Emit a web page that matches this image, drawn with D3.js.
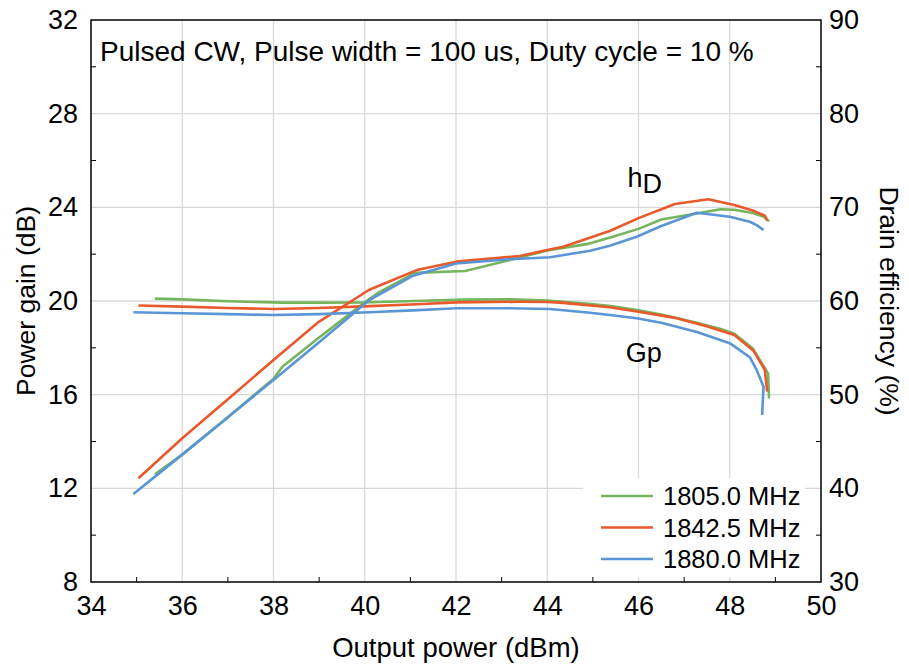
<!DOCTYPE html>
<html>
<head>
<meta charset="utf-8">
<script src="https://cdn.jsdelivr.net/npm/d3@7"></script>
<style>
  body { margin: 0; background: #fff; }
  text { font-family: Arial, "Liberation Sans", sans-serif; fill: #000; }
</style>
</head>
<body>
<div id="wrapper"></div>
<script>
// output power (dBm), gain (dB) and drain efficiency (%)
const pout1805 = [35.4, 36.0, 37.0, 38.0, 38.2, 39.0, 40.0, 40.3, 41.1, 42.2, 43.2, 44.0, 44.9, 45.4, 46.0, 46.5, 47.3, 47.8, 48.1, 48.5, 48.75, 48.84, 48.86]
const gain1805 = [20.10, 20.07, 19.99, 19.94, 19.93, 19.93, 19.94, 19.96, 20.0, 20.06, 20.07, 20.02, 19.88, 19.78, 19.60, 19.42, 19.06, 18.80, 18.60, 17.98, 17.2, 16.9, 15.84]
const eff1805 = [41.5, 43.6, 47.6, 51.7, 53.0, 56.1, 59.85, 60.9, 63.0, 63.2, 64.4, 65.4, 66.1, 66.8, 67.7, 68.7, 69.36, 69.8, 69.75, 69.4, 69.0, 68.6, 68.5]

const pout1842 = [35.04, 36.0, 37.0, 38.0, 39.0, 40.1, 41.14, 42.0, 43.4, 44.0, 44.35, 45.37, 46.0, 46.8, 47.53, 48.1, 48.52, 48.77, 48.82]
const gain1842 = [19.81, 19.76, 19.70, 19.66, 19.70, 19.78, 19.86, 19.94, 19.97, 19.96, 19.92, 19.73, 19.54, 19.28, 18.90, 18.55, 17.88, 17.05, 16.13]
const eff1842 = [41.07, 45.34, 49.5, 53.7, 57.8, 61.2, 63.3, 64.2, 64.8, 65.44, 65.8, 67.47, 68.85, 70.35, 70.86, 70.25, 69.64, 69.1, 68.6]

const pout1880 = [34.93, 36.0, 37.0, 38.0, 39.0, 40.1, 41.06, 42.0, 43.18, 44.06, 44.94, 45.37, 45.96, 46.5, 47.28, 48.0, 48.44, 48.59, 48.74, 48.71]
const gain1880 = [19.52, 19.48, 19.44, 19.40, 19.44, 19.52, 19.60, 19.69, 19.69, 19.66, 19.50, 19.40, 19.26, 19.07, 18.68, 18.2, 17.6, 17.05, 16.34, 15.13]
const eff1880 = [39.4, 43.6, 47.6, 51.56, 55.6, 60.1, 62.7, 64.0, 64.45, 64.67, 65.37, 65.9, 66.86, 68.0, 69.43, 69.0, 68.46, 68.1, 67.58, null]

const seriesNames = ["1805.0 MHz", "1842.5 MHz", "1880.0 MHz"]
const seriesColors = ["#76b45e", "#e8592b", "#5a95d5"]

const xTicks = [34, 36, 38, 40, 42, 44, 46, 48, 50]
const gainTicks = [8, 12, 16, 20, 24, 28, 32]
const effTicks = [30, 40, 50, 60, 70, 80, 90]

const titleText = "Pulsed CW, Pulse width = 100 us, Duty cycle = 10 %"

const series = [
    { name: seriesNames[0], color: seriesColors[0], pout: pout1805, gain: gain1805, eff: eff1805 },
    { name: seriesNames[1], color: seriesColors[1], pout: pout1842, gain: gain1842, eff: eff1842 },
    { name: seriesNames[2], color: seriesColors[2], pout: pout1880, gain: gain1880, eff: eff1880 },
]

let dimensions = {
    width: 909,
    height: 665,
    margin: { top: 20, right: 88, bottom: 83, left: 91 },
}
dimensions.boundedWidth = dimensions.width - dimensions.margin.left - dimensions.margin.right
dimensions.boundedHeight = dimensions.height - dimensions.margin.top - dimensions.margin.bottom

const wrapper = d3.select("#wrapper")
    .append("svg")
    .attr("width", dimensions.width)
    .attr("height", dimensions.height)

const bounds = wrapper.append("g")
    .attr("transform", `translate(${dimensions.margin.left},${dimensions.margin.top})`)

const xScale = d3.scaleLinear().domain([34, 50]).range([0, dimensions.boundedWidth])
const gainScale = d3.scaleLinear().domain([8, 32]).range([dimensions.boundedHeight, 0])
const effScale = d3.scaleLinear().domain([30, 90]).range([dimensions.boundedHeight, 0])

// grid
const grid = bounds.append("g")
grid.selectAll(".vgrid")
    .data(xTicks.slice(1, -1))
    .join("line")
    .attr("x1", d => xScale(d)).attr("x2", d => xScale(d))
    .attr("y1", 0).attr("y2", dimensions.boundedHeight)
    .attr("stroke", "#d9d9d9").attr("stroke-width", 1.3)
grid.selectAll(".hgrid")
    .data(gainTicks.slice(1, -1))
    .join("line")
    .attr("x1", 0).attr("x2", dimensions.boundedWidth)
    .attr("y1", d => gainScale(d)).attr("y2", d => gainScale(d))
    .attr("stroke", "#d9d9d9").attr("stroke-width", 1.3)

// axes: labels only, minor ticks inward
const axisFont = 27
const xAxis = bounds.append("g")
    .attr("transform", `translate(0,${dimensions.boundedHeight})`)
    .call(d3.axisBottom(xScale).tickValues(xTicks).tickSize(0).tickPadding(10))
const yAxis = bounds.append("g")
    .call(d3.axisLeft(gainScale).tickValues(gainTicks).tickSize(0).tickPadding(13))
const yAxis2 = bounds.append("g")
    .attr("transform", `translate(${dimensions.boundedWidth},0)`)
    .call(d3.axisRight(effScale).tickValues(effTicks).tickSize(0).tickPadding(8))
;[xAxis, yAxis, yAxis2].forEach(a => {
    a.select(".domain").remove()
    a.selectAll("text").style("font-size", axisFont + "px").attr("font-family", null)
})
xAxis.selectAll("text").attr("dy", "0.85em")

const minorX = d3.range(35, 50, 2)
const minorY = d3.range(10, 32, 4)
bounds.append("g").selectAll("line")
    .data(minorX)
    .join("line")
    .attr("x1", d => xScale(d)).attr("x2", d => xScale(d))
    .attr("y1", dimensions.boundedHeight).attr("y2", dimensions.boundedHeight - 5)
    .attr("stroke", "#000").attr("stroke-width", 1)
bounds.append("g").selectAll("line")
    .data(minorY)
    .join("line")
    .attr("x1", 0).attr("x2", 5)
    .attr("y1", d => gainScale(d)).attr("y2", d => gainScale(d))
    .attr("stroke", "#000").attr("stroke-width", 1)
bounds.append("g").selectAll("line")
    .data(minorY)
    .join("line")
    .attr("x1", dimensions.boundedWidth).attr("x2", dimensions.boundedWidth - 5)
    .attr("y1", d => gainScale(d)).attr("y2", d => gainScale(d))
    .attr("stroke", "#000").attr("stroke-width", 1)

// frame
bounds.append("rect")
    .attr("width", dimensions.boundedWidth)
    .attr("height", dimensions.boundedHeight)
    .attr("fill", "none")
    .attr("stroke", "#000")
    .attr("stroke-width", 1.5)

// legend background (hides the grid behind it)
const legend = bounds.append("g")
    .attr("transform", `translate(492,458)`)
legend.append("rect")
    .attr("width", 222).attr("height", 99)
    .attr("fill", "#fff")

// curves
const gainLine = d3.line()
    .defined(d => d.y != null)
    .x(d => xScale(d.x))
    .y(d => gainScale(d.y))
const effLine = d3.line()
    .defined(d => d.y != null)
    .x(d => xScale(d.x))
    .y(d => effScale(d.y))

series.forEach(s => {
    bounds.append("path")
        .datum(s.pout.map((p, i) => ({ x: p, y: s.gain[i] })))
        .attr("d", gainLine)
        .attr("fill", "none")
        .attr("stroke", s.color)
        .attr("stroke-width", 2.6)
        .attr("stroke-linejoin", "round")
    bounds.append("path")
        .datum(s.pout.map((p, i) => ({ x: p, y: s.eff[i] })))
        .attr("d", effLine)
        .attr("fill", "none")
        .attr("stroke", s.color)
        .attr("stroke-width", 2.6)
        .attr("stroke-linejoin", "round")
})

// legend entries
series.forEach((s, i) => {
    const row = legend.append("g").attr("transform", `translate(0,${18 + i * 31.5})`)
    row.append("line")
        .attr("x1", 18).attr("x2", 70)
        .attr("stroke", s.color).attr("stroke-width", 2.6)
    row.append("text")
        .attr("x", 80).attr("dy", "0.36em")
        .style("font-size", "25.5px")
        .text(s.name)
})

// title + curve labels
bounds.append("text")
    .attr("x", 9).attr("y", 41)
    .style("font-size", "28px")
    .text(titleText)

const etaLabel = bounds.append("text")
    .attr("x", xScale(45.76)).attr("y", 167)
    .style("font-size", "27px")
etaLabel.append("tspan").text("h")
etaLabel.append("tspan").attr("dy", 6).text("D")

bounds.append("text")
    .attr("x", xScale(45.72)).attr("y", gainScale(17.39))
    .style("font-size", "27px")
    .text("Gp")

// axis titles
wrapper.append("text")
    .attr("x", dimensions.margin.left + dimensions.boundedWidth / 2)
    .attr("y", 657)
    .attr("text-anchor", "middle")
    .style("font-size", "27.5px")
    .text("Output power (dBm)")

wrapper.append("text")
    .attr("transform", `translate(35,${dimensions.margin.top + dimensions.boundedHeight / 2}) rotate(-90)`)
    .attr("text-anchor", "middle")
    .style("font-size", "26.5px")
    .text("Power gain (dB)")

wrapper.append("text")
    .attr("transform", `translate(880,${dimensions.margin.top + dimensions.boundedHeight / 2}) rotate(90)`)
    .attr("text-anchor", "middle")
    .style("font-size", "26.5px")
    .text("Drain efficiency (%)")
</script>
</body>
</html>
